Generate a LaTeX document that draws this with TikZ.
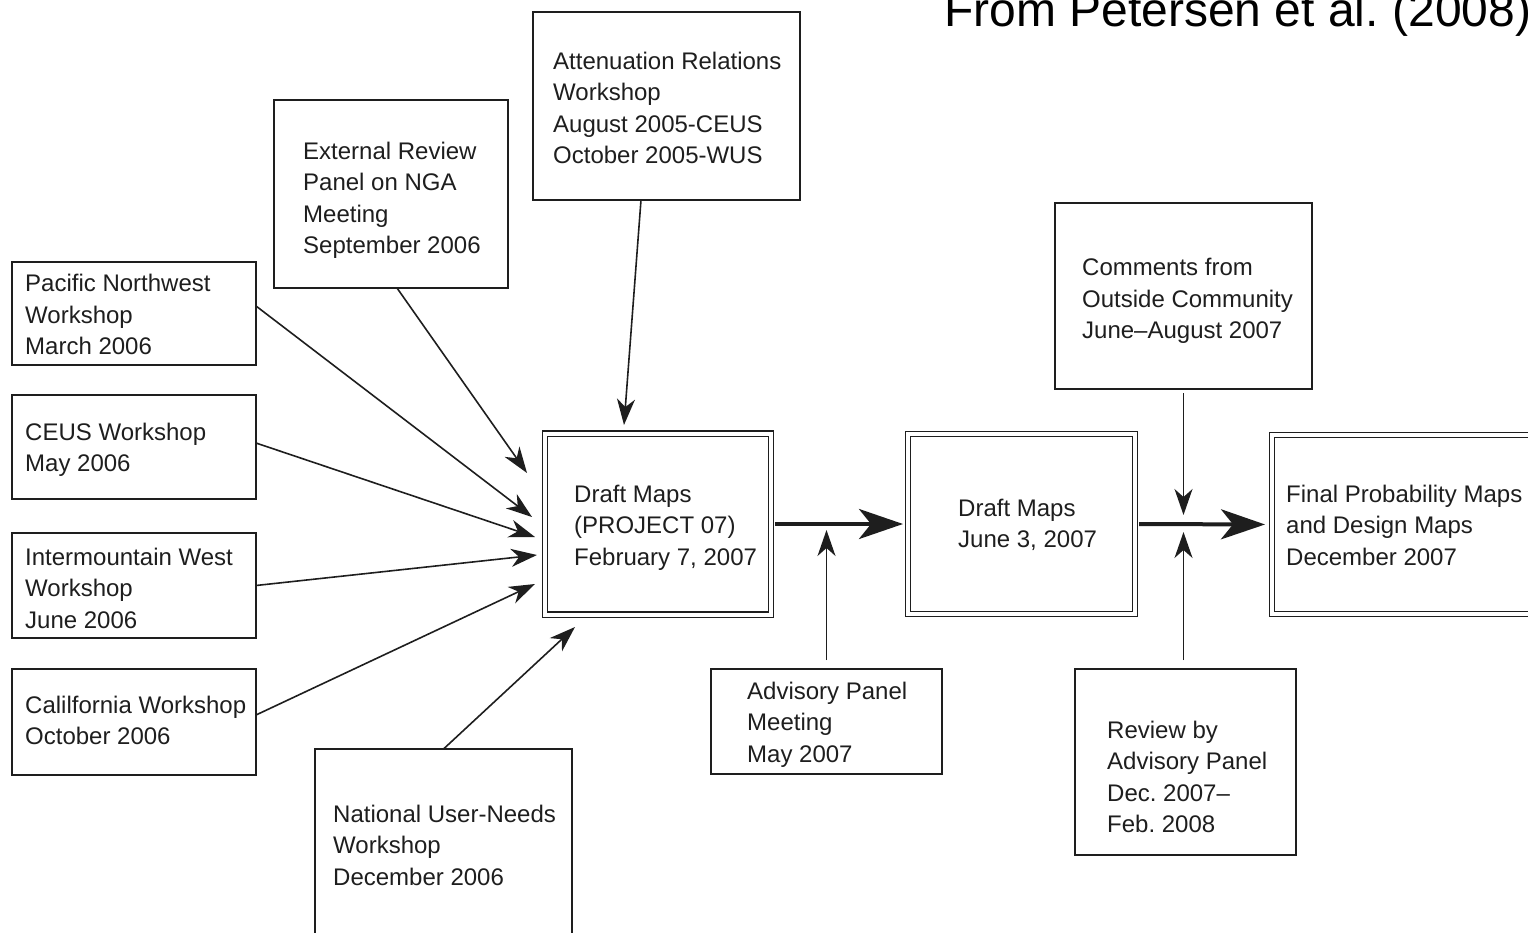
\documentclass[tikz,border=0pt]{standalone}
\usepackage{fontspec}
\setmainfont{Liberation Sans}
\usetikzlibrary{arrows.meta}
\definecolor{ink}{HTML}{1E1E1E}
\frenchspacing
% one line of a box label, and a stack of such lines aligned on the first baseline
\newcommand\rowtext[1]{\hbox{#1}}
\newcommand\stack[1]{\vtop{\baselineskip=31.5pt\relax #1}}

\begin{document}
\begin{tikzpicture}[x=1pt,y=-1pt,
  box/.style={draw=ink,line width=1.5pt,inner sep=0pt,outer sep=0pt},
  dbox/.style={draw=ink,line width=1.4pt,double=white,double distance=4pt,inner sep=0pt,outer sep=0pt},
  txt/.style={anchor=base west,inner sep=0pt,text=ink,font=\fontsize{24}{31.5}\selectfont},
  sarrow/.style={draw=ink,line width=1.6pt,-{Stealth[length=26pt,width=18pt,inset=8pt]}},
  tarrow/.style={draw=ink,line width=4pt,-{Stealth[length=44pt,width=30pt,inset=12pt]}}]
\clip (0,0) rectangle (1528,933);

% source note
\node[anchor=base west,inner sep=0pt,font=\fontsize{48}{52}\selectfont] (src) at (944,27) {From Petersen et al. (2008)};

% input boxes
\node[box,minimum width=244pt,minimum height=103pt] (pn) at (134,313.5) {};
\node[box,minimum width=244pt,minimum height=104pt] (ceus) at (134,447) {};
\node[box,minimum width=244pt,minimum height=105pt] (imw) at (134,585.5) {};
\node[box,minimum width=244pt,minimum height=106pt] (cal) at (134,722) {};
\node[box,minimum width=234pt,minimum height=188pt] (ext) at (391,194) {};
\node[box,minimum width=267pt,minimum height=188pt] (att) at (666.5,106) {};
\node[box,minimum width=257pt,minimum height=211pt] (nat) at (443.5,854.5) {};
\node[box,minimum width=231pt,minimum height=105pt] (adv) at (826.5,721.5) {};
\node[box,minimum width=257pt,minimum height=186pt] (com) at (1183.5,296) {};
\node[box,minimum width=221pt,minimum height=186pt] (rev) at (1185.5,762) {};

% main stages
\node[dbox,minimum width=226pt,minimum height=181pt] (draft1) at (658,524) {};
\node[dbox,minimum width=227pt,minimum height=180pt] (draft2) at (1021.5,524) {};
\node[dbox,minimum width=288pt,minimum height=179pt] (fin) at (1416,524.5) {};

% labels
\node[txt] (pnT) at (25,291.5) {\stack{\rowtext{Pacific Northwest}\rowtext{Workshop}\rowtext{March 2006}}};
\node[txt] (ceusT) at (25,440) {\stack{\rowtext{CEUS Workshop}\rowtext{May 2006}}};
\node[txt] (imwT) at (25,565) {\stack{\rowtext{Intermountain West}\rowtext{Workshop}\rowtext{June 2006}}};
\node[txt] (calT) at (25,713) {\stack{\rowtext{Calilfornia Workshop}\rowtext{October 2006}}};
\node[txt] (extT) at (303,159.5) {\stack{\rowtext{External Review}\rowtext{Panel on NGA}\rowtext{Meeting}\rowtext{September 2006}}};
\node[txt] (attT) at (553,69.5) {\stack{\rowtext{Attenuation Relations}\rowtext{Workshop}\rowtext{August 2005-CEUS}\rowtext{October 2005-WUS}}};
\node[txt] (natT) at (333,822) {\stack{\rowtext{National User-Needs}\rowtext{Workshop}\rowtext{December 2006}}};
\node[txt] (draft1T) at (574,502) {\stack{\rowtext{Draft Maps}\rowtext{(PROJECT 07)}\rowtext{February 7, 2007}}};
\node[txt] (advT) at (747,699) {\stack{\rowtext{Advisory Panel}\rowtext{Meeting}\rowtext{May 2007}}};
\node[txt] (draft2T) at (958,516) {\stack{\rowtext{Draft Maps}\rowtext{June 3, 2007}}};
\node[txt] (comT) at (1082,276) {\stack{\rowtext{Comments from}\rowtext{Outside Community}\rowtext{June–August 2007}}};
\node[txt] (revT) at (1107,738) {\stack{\rowtext{Review by}\rowtext{Advisory Panel}\rowtext{Dec. 2007–}\rowtext{Feb. 2008}}};
\node[txt] (finT) at (1286,502) {\stack{\rowtext{Final Probability Maps}\rowtext{and Design Maps}\rowtext{December 2007}}};

% inputs converging on the first draft
\draw[sarrow] ([yshift=7.5pt]pn.east) -- ([xshift=-13pt,yshift=7pt]draft1.west);
\draw[sarrow] ([xshift=6pt]ext.south) -- ([xshift=-18pt,yshift=51pt]draft1.west);
\draw[sarrow] ([yshift=4pt]ceus.east) -- ([xshift=-10pt,yshift=-13pt]draft1.west);
\draw[sarrow] (imw.east) -- ([xshift=-8pt,yshift=-31pt]draft1.west);
\draw[sarrow] ([yshift=7pt]cal.east) -- ([xshift=-10pt,yshift=-60pt]draft1.west);
\draw[sarrow] (nat.north) -- ([xshift=30pt,yshift=-12.5pt]draft1.south west);
\draw[sarrow] ([xshift=-25.5pt]att.south) -- ([xshift=-34pt,yshift=8.5pt]draft1.north);

% main flow
\draw[tarrow,shorten <=4pt,shorten >=5pt] (draft1.east) -- (draft2.west);
\draw[tarrow,shorten <=4pt,shorten >=7pt] (draft2.east) -- (fin.west);

% reviews feeding the main flow
\draw[sarrow] ([yshift=9pt]adv.north) -- ++(0,-130);
\draw[sarrow] ([yshift=-4pt]com.south) -- ++(0,122);
\draw[sarrow] ([xshift=-2pt,yshift=9pt]rev.north) -- ++(0,-128);
\end{tikzpicture}
\end{document}
